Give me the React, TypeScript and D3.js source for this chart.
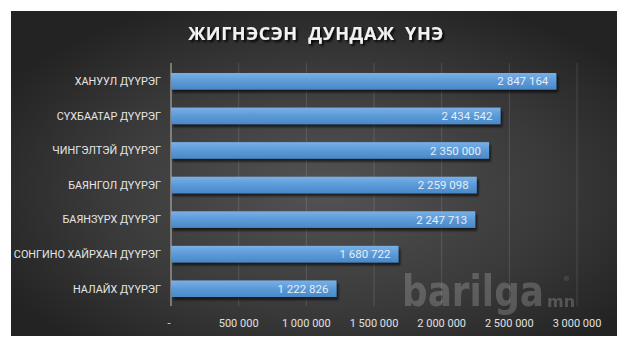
import React from "react";
import * as d3 from "d3";

const categories = [
  "ХАНУУЛ ДҮҮРЭГ",
  "СҮХБААТАР ДҮҮРЭГ",
  "ЧИНГЭЛТЭЙ ДҮҮРЭГ",
  "БАЯНГОЛ ДҮҮРЭГ",
  "БАЯНЗҮРХ ДҮҮРЭГ",
  "СОНГИНО ХАЙРХАН ДҮҮРЭГ",
  "НАЛАЙХ ДҮҮРЭГ",
];
const values = [2847164, 2434542, 2350000, 2259098, 2247713, 1680722, 1222826];
const ticks = [0, 500000, 1000000, 1500000, 2000000, 2500000, 3000000];
const title = "ЖИГНЭСЭН  ДУНДАЖ  ҮНЭ";

const W = 629;
const H = 350;
const plot = { left: 171, right: 577, top: 64, bottom: 306 };

const fmt = (v: number) =>
  v === 0 ? "-" : d3.format(",")(v).replace(/,/g, " ");

const labelFont = "Roboto, 'Noto Sans', sans-serif";

export default function App() {
  const x = d3.scaleLinear().domain([0, 3000000]).range([plot.left, plot.right]);
  const y = d3
    .scaleBand<string>()
    .domain(categories)
    .range([plot.top, plot.bottom])
    .paddingInner(0.52)
    .paddingOuter(0.26);
  const bh = y.bandwidth();

  return (
    <svg
      width={W}
      height={H}
      style={{ position: "absolute", left: 0, top: 0, background: "#fff" }}
    >
      <defs>
        <radialGradient id="bg" cx="0.52" cy="0.55" r="0.62">
          <stop offset="0" stopColor="#535353" />
          <stop offset="0.6" stopColor="#3a3a3a" />
          <stop offset="1" stopColor="#232323" />
        </radialGradient>
        <linearGradient id="bar" x1="0" y1="0" x2="0" y2="1">
          <stop offset="0" stopColor="#7ab0e6" />
          <stop offset="0.5" stopColor="#5b9ad8" />
          <stop offset="1" stopColor="#4a88c8" />
        </linearGradient>
        <filter id="shadow" x="-5%" y="-30%" width="115%" height="190%">
          <feGaussianBlur in="SourceAlpha" stdDeviation="1.3" />
          <feOffset dx="2" dy="2.5" result="ob" />
          <feComponentTransfer>
            <feFuncA type="linear" slope="0.6" />
          </feComponentTransfer>
          <feMerge>
            <feMergeNode />
            <feMergeNode in="SourceGraphic" />
          </feMerge>
        </filter>
        <filter id="tshadow" x="-10%" y="-30%" width="120%" height="170%">
          <feGaussianBlur in="SourceAlpha" stdDeviation="1" />
          <feOffset dx="1.5" dy="2" />
          <feComponentTransfer>
            <feFuncA type="linear" slope="0.9" />
          </feComponentTransfer>
          <feMerge>
            <feMergeNode />
            <feMergeNode in="SourceGraphic" />
          </feMerge>
        </filter>
      </defs>

      <rect x={11} y={11} width={606} height={325} fill="url(#bg)" />

      <text
        x={316}
        y={40}
        textAnchor="middle"
        fill="#f2f2f2"
        fontFamily="'Open Sans', 'DejaVu Sans', sans-serif"
        fontWeight="bold"
        fontSize={18}
        letterSpacing={0.6}
        filter="url(#tshadow)"
        style={{ whiteSpace: "pre" }}
      >
        {title}
      </text>

      {/* gridlines */}
      {ticks.slice(1).map((t) => (
        <line
          key={t}
          x1={x(t)}
          x2={x(t)}
          y1={plot.top - 1}
          y2={plot.bottom}
          stroke="#ffffff"
          strokeOpacity={0.13}
          strokeWidth={1}
        />
      ))}

      {/* watermark */}
      <g opacity={0.25} fill="#d0d0d0" fontFamily="'DejaVu Sans', sans-serif" fontWeight="bold">
        <text
          transform="translate(402,306) scale(1,1.4)"
          x={0}
          y={0}
          fontSize={30}
          textLength={142}
          lengthAdjust="spacingAndGlyphs"
        >
          barilga
        </text>
        <text x={547} y={307} fontSize={16}>
          mn
        </text>
        <text x={563} y={281} fontSize={7} fontWeight="normal">
          ®
        </text>
      </g>

      {/* axis line */}
      <line
        x1={x(0)}
        x2={x(0)}
        y1={plot.top - 1}
        y2={plot.bottom}
        stroke="#bfbfbf"
        strokeWidth={1}
      />

      {/* bars */}
      {categories.map((c, i) => (
        <g key={c}>
          <rect
            x={x(0)}
            y={y(c)!}
            width={x(values[i]) - x(0)}
            height={bh}
            fill="url(#bar)"
            filter="url(#shadow)"
          />
          <text
            x={x(values[i]) - 8}
            y={y(c)! + bh / 2}
            dy="0.36em"
            textAnchor="end"
            fill="#e4eef8"
            fontFamily={labelFont}
            fontSize={11.5}
          >
            {fmt(values[i])}
          </text>
          <text
            x={161}
            y={y(c)! + bh / 2}
            dy="0.36em"
            textAnchor="end"
            fill="#e6e6e6"
            fontFamily={labelFont}
            fontSize={10.8}
          >
            {c}
          </text>
        </g>
      ))}

      {/* tick labels */}
      {ticks.map((t) => (
        <text
          key={t}
          x={t === 0 ? x(t) - 2 : x(t)}
          y={323}
          dy="0.36em"
          textAnchor="middle"
          fill="#e0e0e0"
          fontFamily={labelFont}
          fontSize={11}
        >
          {fmt(t)}
        </text>
      ))}
    </svg>
  );
}
